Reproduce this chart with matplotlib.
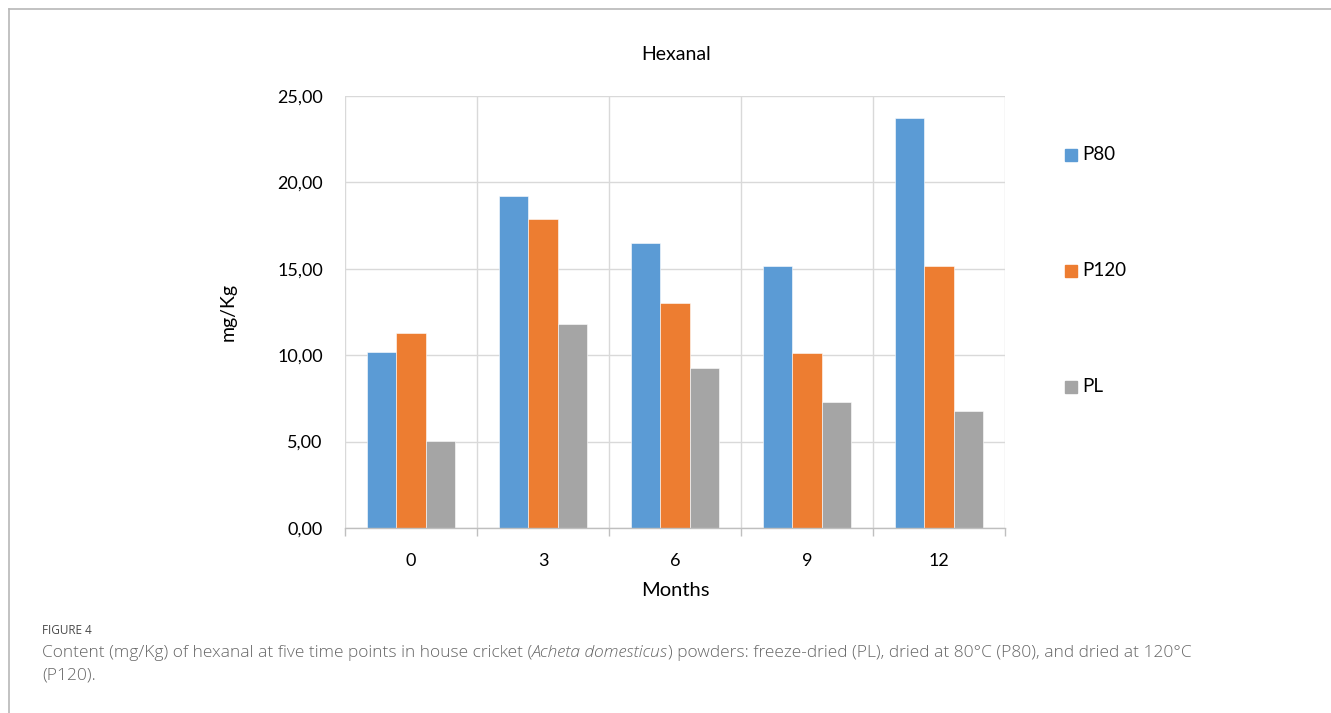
import matplotlib
matplotlib.use("Agg")
import matplotlib.pyplot as plt
import numpy as np
from matplotlib.lines import Line2D
from matplotlib.ticker import FixedLocator, FuncFormatter

plt.rcParams['font.family'] = ['Lato', 'DejaVu Sans']

months = ["0", "3", "6", "9", "12"]
series_names = ["P80", "P120", "PL"]
p80 = [10.19, 19.23, 16.47, 15.14, 23.74]
p120 = [11.29, 17.90, 13.00, 10.15, 15.14]
pl = [5.05, 11.81, 9.26, 7.30, 6.79]
colors = ["#5b9bd5", "#ed7d31", "#a5a5a5"]
y_ticks = [0, 5, 10, 15, 20, 25]

W, H = 1331, 713
fig = plt.figure(figsize=(W / 100, H / 100), dpi=100)
ax = fig.add_axes([345 / W, 1 - 528 / H, (1005 - 345) / W, (528 - 96) / H])

x = np.arange(len(months))
bw = 1 / 4.5
for i, (vals, name, c) in enumerate(zip([p80, p120, pl], series_names, colors)):
    ax.bar(x + (i - 1) * bw, vals, width=bw, color=c, edgecolor="white",
           linewidth=0.4, label=name, zorder=3)

ax.set_xlim(-0.5, len(months) - 0.5)
ax.set_ylim(0, 25)

# gridlines: horizontal at value ticks, vertical at category boundaries
ax.yaxis.set_major_locator(FixedLocator(y_ticks))
ax.yaxis.set_major_formatter(FuncFormatter(lambda v, p: f"{v:.2f}".replace(".", ",")))
ax.set_xticks(x)
ax.set_xticklabels(months)
ax.set_xticks(np.arange(-0.5, len(months)), minor=True)
ax.grid(axis="y", which="major", color="#d9d9d9", linewidth=1.0, zorder=0)
ax.grid(axis="x", which="minor", color="#d9d9d9", linewidth=1.0, zorder=0)
ax.grid(axis="x", which="major", visible=False)

for s in ["top", "right", "left"]:
    ax.spines[s].set_visible(False)
ax.spines["bottom"].set_color("#bfbfbf")
ax.spines["bottom"].set_linewidth(1.0)
ax.spines["bottom"].set_zorder(4)

ax.tick_params(axis="x", which="major", length=0, pad=18, labelsize=13, labelcolor="#000000")
ax.tick_params(axis="x", which="minor", length=6, width=1.0, color="#bfbfbf", direction="out")
ax.tick_params(axis="y", which="both", length=0, pad=16, labelsize=13, labelcolor="#000000")

ax.set_xlabel("Months", fontsize=14.5, labelpad=9)
ax.set_ylabel("mg/Kg", fontsize=14, labelpad=29)
fig.text(676 / W, 1 - 54 / H, "Hexanal", ha="center", va="center", fontsize=14)

# legend entries stacked on the right
leg_y = [155, 271, 387]
for name, c, yy in zip(series_names, colors, leg_y):
    fig.patches.append(plt.Rectangle((1065 / W, 1 - (yy + 6) / H), 12 / W, 12 / H,
                                     transform=fig.transFigure, color=c, figure=fig))
    fig.text(1082 / W, 1 - yy / H, name, ha="left", va="center", fontsize=13.5)

# outer frame
frame_c = "#b8b8b8"
fig.add_artist(Line2D([9 / W, 1], [1 - 8.5 / H, 1 - 8.5 / H], color=frame_c, lw=1.2,
                      transform=fig.transFigure))
fig.add_artist(Line2D([9 / W, 9 / W], [0, 1 - 8.5 / H], color=frame_c, lw=1.2,
                      transform=fig.transFigure))

# caption
cap_font = ["Open Sans", "DejaVu Sans"]
fig.text(42 / W, 1 - 631 / H, "FIGURE 4", ha="left", va="center", fontsize=8.5,
         color="#4a4a4a", family=cap_font)

renderer = fig.canvas.get_renderer()
pieces = [("Content (mg/Kg) of hexanal at five time points in house cricket (", "normal"),
          ("Acheta domesticus", "italic"),
          (") powders: freeze-dried (PL), dried at 80°C (P80), and dried at 120°C", "normal")]
xpos = 42
for txt, style in pieces:
    t = fig.text(xpos / W, 1 - 653 / H, txt, ha="left", va="center", fontsize=12.5,
                 color="#666666", style=style, family=cap_font, fontweight="light")
    bb = t.get_window_extent(renderer)
    xpos += bb.width
fig.text(42 / W, 1 - 676 / H, "(P120).", ha="left", va="center", fontsize=12.5,
         color="#666666", family=cap_font, fontweight="light")

fig.savefig("out.png", dpi=100)
